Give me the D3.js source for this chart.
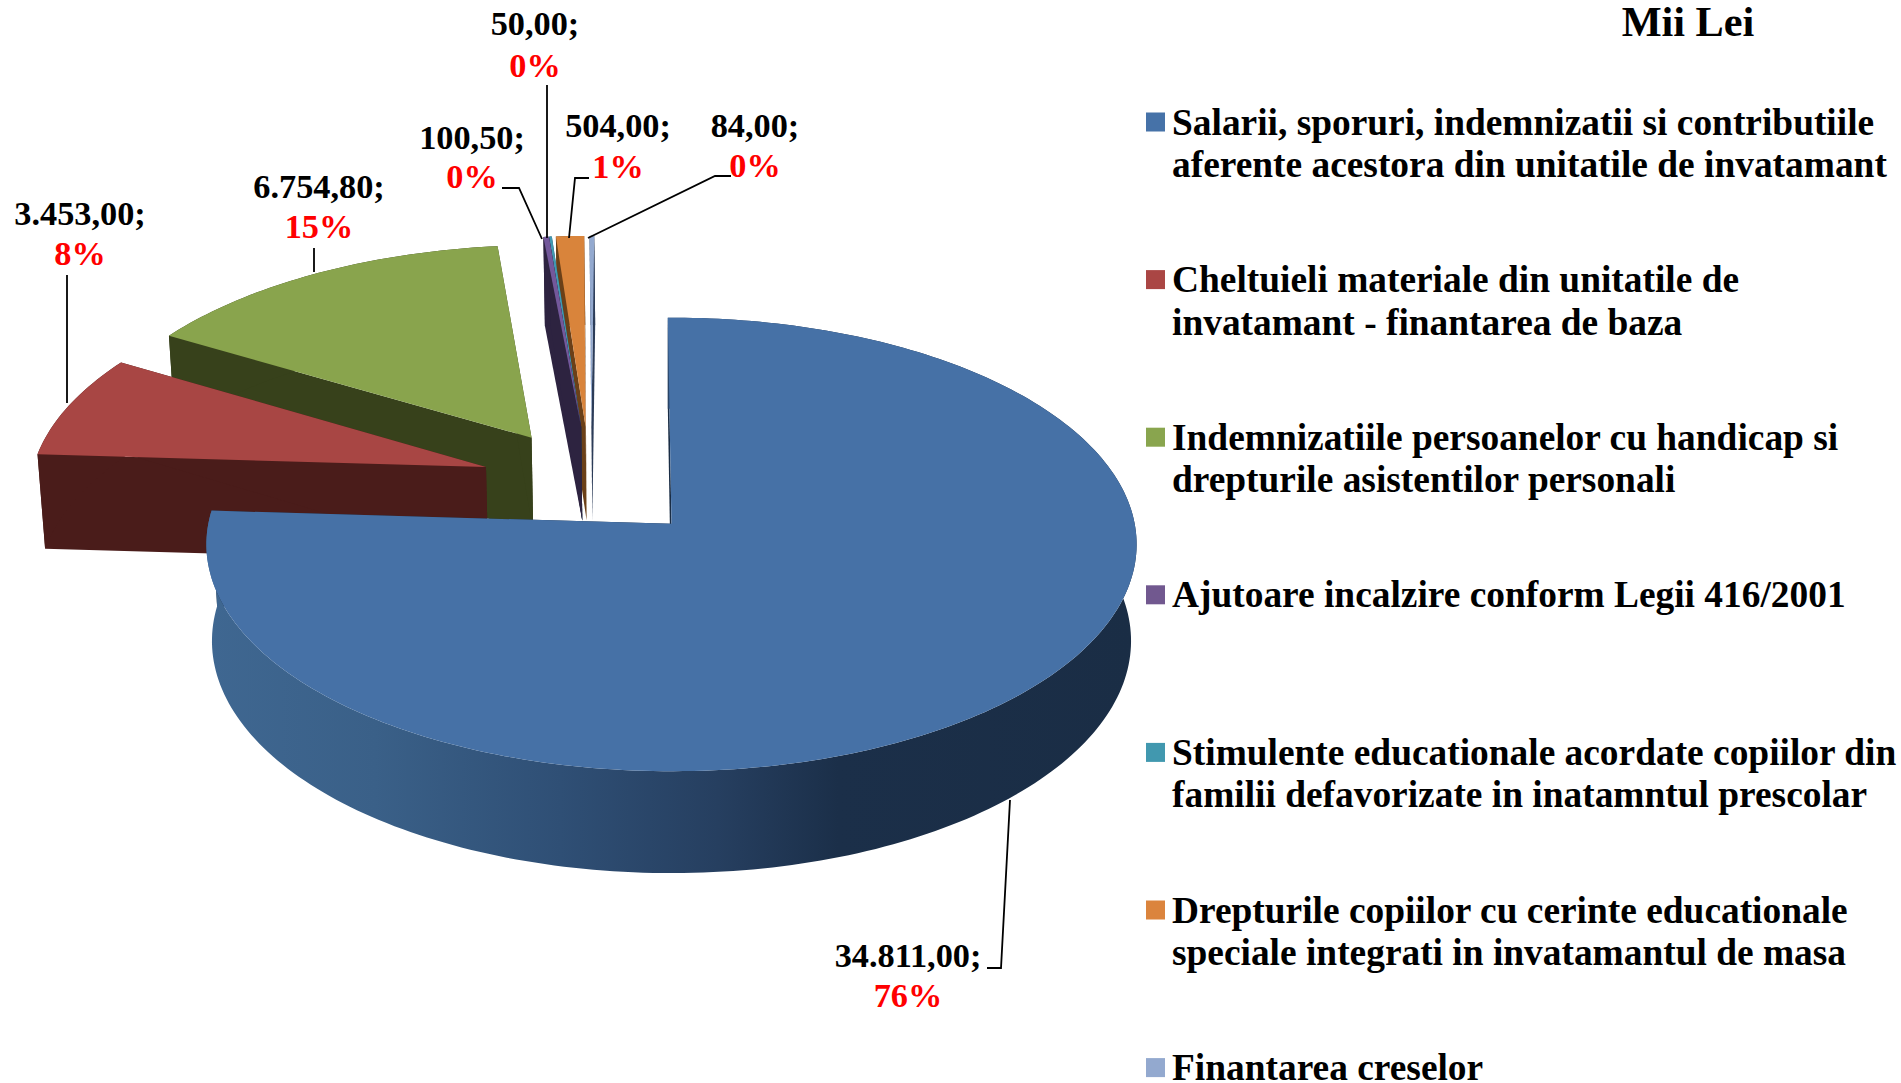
<!DOCTYPE html>
<html>
<head>
<meta charset="utf-8">
<script src="https://cdnjs.cloudflare.com/ajax/libs/d3/7.8.5/d3.min.js"></script>
<style>
html,body{margin:0;padding:0;background:#fff;overflow:hidden}
svg{display:block}
text{font-family:"Liberation Serif","Times New Roman",serif;font-weight:bold}
</style>
</head>
<body>
<svg id="chart" width="1901" height="1083"></svg>
<script>
// ---- data ----
const legendLines = [
  ["Salarii, sporuri, indemnizatii si contributiile", "aferente acestora din unitatile de invatamant"],
  ["Cheltuieli materiale din unitatile de", "invatamant - finantarea de baza"],
  ["Indemnizatiile persoanelor cu handicap si", "drepturile asistentilor personali"],
  ["Ajutoare incalzire conform Legii 416/2001"],
  ["Stimulente educationale acordate copiilor din", "familii defavorizate in inatamntul prescolar"],
  ["Drepturile copiilor cu cerinte educationale", "speciale integrati in invatamantul de masa"],
  ["Finantarea creselor"]
];
const values = [34811.00, 3453.00, 6754.80, 100.50, 50.00, 504.00, 84.00];
const unitTitle = "Mii Lei";

// ---- styles ----
const topColors  = ["#4671a6", "#a84644", "#89a44d", "#73589b", "#4199b2", "#d9843b", "#93a9cf"];
const legendColors = ["#4672a8", "#aa4644", "#89a54e", "#71588f", "#4198af", "#db843d", "#93a9cf"];
const wallColors = ["#1a2d45", "#4a1c1a", "#37411b", "#2d2340", "#1d4650", "#6b4018", "#2c3c58"];

// ---- layout ----
const W = 1901, H = 1083;
const view = {cx: 671.5, cy: 523.8, A: 463.2, k: 224.9, p: 0.0909, depth: 96, shrink: 0.988, squash: 0.985};
// exploded offset of each slice in the plane of the pie (unit = radius)
const explode = [[0,0],[-0.41,0.259],[-0.313,0.3966],[-0.203,0.449],[-0.203,0.449],[-0.193,0.449],[-0.18,0.449]];
// label anchors and leader lines, in pixels
const labelPos = [
  {x:908, y1:967, y2:1007},
  {x:80,  y1:225, y2:265},
  {x:319, y1:198, y2:238},
  {x:472, y1:149, y2:188},
  {x:535, y1:35,  y2:77},
  {x:618, y1:137, y2:178},
  {x:755, y1:137, y2:177}
];
const leaders = [
  [[1010,800],[1001,968],[987,968]],
  [[67,403],[67,275]],
  [[314,272],[314,248]],
  [[542,239],[519,188],[502,188]],
  [[547,238],[547,85]],
  [[569,238],[575,178],[589,178]],
  [[588,238],[715,176],[731,176]]
];
const legend = {sq:1146, sqSize:19, textX:1172, first:122, step:157.6, base:12.5, lead:42.5, size:37.4};
const fontLabel = 34.3;
const fontTitle = 42.3;

// ---- geometry ----
const svg = d3.select("#chart");
const total = d3.sum(values);
const fmtVal = d3.formatLocale({decimal:",",thousands:".",grouping:[3],currency:["",""]}).format(",.2f");
const fmtPct = d3.format(".0%");
const rot = -0.5 * Math.PI / 180;
const arcs = d3.pie().sort(null).startAngle(rot).endAngle(2*Math.PI + rot)(values);

const scaleX = d3.scaleLinear().domain([0,1]).range([view.cx, view.cx + view.A]);
const scaleY = d3.scaleLinear().domain([0,1]).range([view.cy, view.cy - view.k]);
function projTop(X, Y){
  const f = 1/(1 + view.p*Y);
  return [scaleX(X*f), scaleY(Y*f)];
}
function projBottom(X, Y){
  const f = 1/(1 + view.p*Y);
  return [scaleX(X*f*view.shrink), scaleY(Y*f*view.squash) + view.depth*f];
}
const line = d3.line();
function arcPts(a, off, proj){
  const n = Math.max(2, Math.ceil((a.endAngle-a.startAngle)/0.02));
  return d3.range(n+1).map(j=>{
    const t = a.startAngle + (a.endAngle-a.startAngle)*j/n;
    return proj(off[0]+Math.sin(t), off[1]+Math.cos(t));
  });
}

// gradient for the big slice's rim
const defs = svg.append("defs");
const grad = defs.append("linearGradient").attr("id","rim")
  .attr("gradientUnits","userSpaceOnUse")
  .attr("x1",view.cx-view.A).attr("x2",view.cx+view.A).attr("y1",0).attr("y2",0);
[[0,"#3f6791"],[0.18,"#3a6088"],[0.38,"#2f4f75"],[0.55,"#263f60"],[0.68,"#1b2f49"],[1,"#1a2d45"]]
  .forEach(s=>grad.append("stop").attr("offset",s[0]).attr("stop-color",s[1]));

// painter's order: back slices first, big slice last
const order = [2,1,6,5,4,3,0];
const g = svg.append("g");
order.forEach(i=>{
  const a = arcs[i], off = explode[i];
  const sl = g.append("g").attr("class","slice");
  const apT = projTop(off[0],off[1]), apB = projBottom(off[0],off[1]);
  const tArc = arcPts(a,off,projTop), bArc = arcPts(a,off,projBottom);
  // cut walls
  sl.append("path").attr("d",line([apT,tArc[0],bArc[0],apB])+"Z").attr("fill",wallColors[i]);
  sl.append("path").attr("d",line([apT,tArc[tArc.length-1],bArc[bArc.length-1],apB])+"Z").attr("fill",wallColors[i]);
  // rim
  sl.append("path").attr("d",line(tArc.concat(bArc.slice().reverse()))+"Z")
    .attr("fill", i===0 ? "url(#rim)" : wallColors[i]);
  // top face
  sl.append("path").attr("d",line([apT].concat(tArc))+"Z").attr("fill",topColors[i]);
});

// leader lines
svg.append("g").selectAll("path").data(leaders).join("path")
  .attr("d",d=>line(d)).attr("fill","none").attr("stroke","#000").attr("stroke-width",1.8);

// data labels
const lab = svg.append("g").attr("text-anchor","middle").attr("font-size",fontLabel);
lab.selectAll("text.v").data(arcs).join("text").attr("class","v")
  .attr("x",(d,i)=>labelPos[i].x).attr("y",(d,i)=>labelPos[i].y1)
  .attr("fill","#000").text(d=>fmtVal(d.value)+";");
lab.selectAll("text.p").data(arcs).join("text").attr("class","p")
  .attr("x",(d,i)=>labelPos[i].x).attr("y",(d,i)=>labelPos[i].y2)
  .attr("fill","#ff0000").text(d=>fmtPct(d.value/total));

// title
svg.append("text").attr("x",1688).attr("y",36).attr("text-anchor","middle")
  .attr("font-size",fontTitle).attr("fill","#000").text(unitTitle);

// legend
const lg = svg.append("g").selectAll("g").data(legendLines).join("g");
lg.append("rect").attr("x",legend.sq).attr("width",legend.sqSize).attr("height",legend.sqSize)
  .attr("y",(d,i)=>legend.first+legend.step*i-legend.sqSize/2)
  .attr("fill",(d,i)=>legendColors[i]);
lg.each(function(lines,i){
  d3.select(this).selectAll("text").data(lines).join("text")
    .attr("x",legend.textX)
    .attr("y",(d,j)=>legend.first+legend.step*i+legend.base+legend.lead*j)
    .attr("font-size",legend.size).attr("fill","#000").text(d=>d);
});
</script>
</body>
</html>
